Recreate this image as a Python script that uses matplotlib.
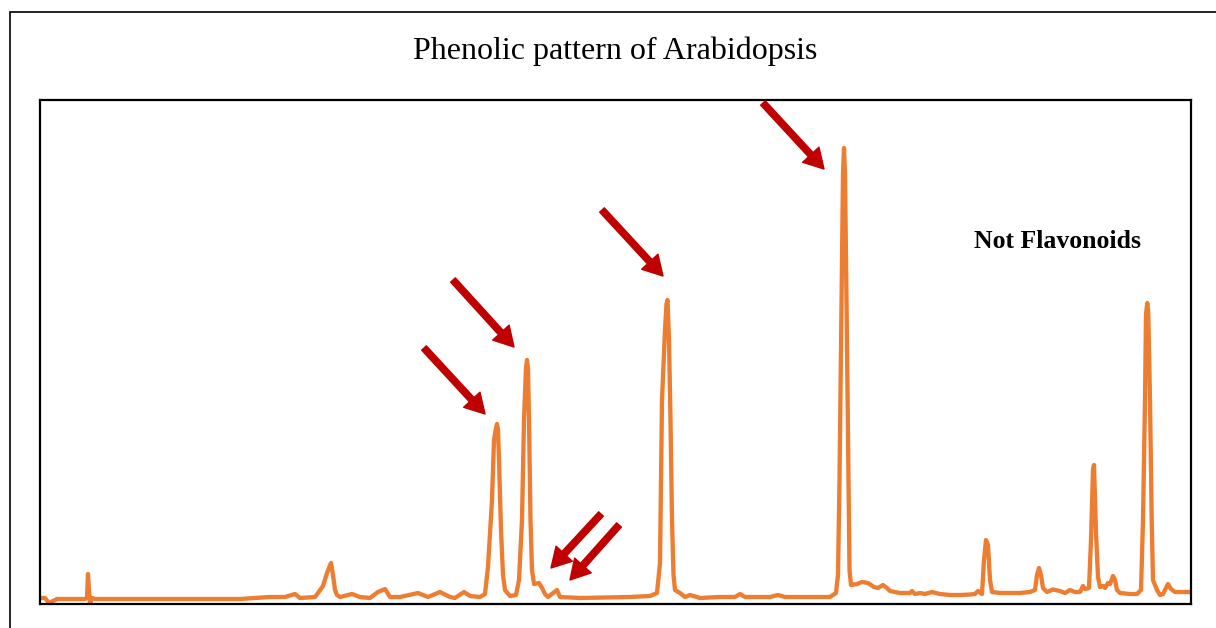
'''
phenolic pattern chromatogram
'''
import matplotlib
matplotlib.use('Agg')
import matplotlib.pyplot as plt
from matplotlib.patches import Rectangle

# (retention position, detector signal), arbitrary units
trace = [(0, 6), (5, 6), (9, 1), (17, 5), (30, 5), (45, 5), (47, 6), (48, 30),
         (49, 14), (50, 0), (52, 6), (55, 5), (200, 5), (230, 7), (245, 7),
         (255, 10), (260, 6), (275, 7), (283, 18), (287, 31), (289, 36),
         (291, 41), (293, 29), (295, 14), (297, 9), (300, 7), (312, 10),
         (320, 7), (330, 6), (338, 12), (345, 15), (350, 7), (360, 7),
         (378, 11), (388, 7), (400, 12), (410, 7), (415, 6), (424, 12),
         (430, 8), (440, 7), (445, 10), (448, 37), (452, 104), (454, 164),
         (456, 176), (457, 180), (458, 174), (459, 144), (461, 74), (463, 29),
         (465, 14), (470, 8), (476, 9), (479, 24), (482, 84), (484, 184),
         (486, 236), (487, 244), (488, 236), (489, 184), (490.5, 84), (492, 34),
         (494, 20), (499, 21), (502, 16), (505, 10), (508, 7), (517, 14),
         (520, 7), (540, 6), (590, 7), (610, 8), (617, 11), (620, 41),
         (622, 204), (625, 274), (626.5, 300), (627.5, 304), (629, 264),
         (630.5, 184), (632, 84), (633.5, 29), (635, 14), (640, 11), (645, 7),
         (650, 9), (660, 6), (680, 7), (695, 7), (700, 10), (705, 7), (730, 7),
         (738, 9), (745, 7), (790, 7), (796, 11), (798, 29), (799.5, 124),
         (801.5, 304), (803, 430), (804, 456), (805, 430), (806.5, 304),
         (808.5, 124), (809.5, 34), (811, 19), (817, 20), (822, 22), (828, 21),
         (834, 17), (838, 16), (843, 19), (847, 16), (850, 13), (860, 11),
         (870, 11), (872, 13), (875, 10), (880, 11), (885, 10), (892, 12),
         (900, 10), (910, 9), (920, 9), (930, 9.5), (935, 10), (938, 13),
         (942, 10), (944, 44), (946, 64), (948, 59), (950, 24), (952, 12),
         (960, 11), (980, 11), (990, 12), (995, 14), (997, 29), (999, 36),
         (1001, 29), (1003, 16), (1007, 12), (1013, 14.5), (1020, 13),
         (1025, 11), (1030, 14), (1035, 12), (1040, 12), (1043, 18), (1045, 15),
         (1049, 16), (1051, 64), (1053, 134), (1054, 139), (1056, 71),
         (1058, 27), (1060, 17), (1063, 18), (1065, 16), (1068, 21), (1070, 20),
         (1073, 28), (1075, 24), (1077, 14), (1080, 11), (1090, 10), (1097, 10),
         (1101, 14), (1103, 84), (1105, 204), (1106, 290), (1107.3, 301),
         (1108.3, 290), (1110, 204), (1111.7, 84), (1113, 24), (1117, 14),
         (1120, 9), (1123, 10), (1128, 20), (1131, 15), (1135, 12), (1143, 12),
         (1152, 12)]
rt = [p[0] for p in trace]
signal = [p[1] for p in trace]

# arrows: (tail, head) in data units
arrows = [((384, 256), (445, 190)),
          ((413, 324), (474, 257)),
          ((562, 394), (623, 328)),
          ((723, 501), (784, 435)),
          ((561, 90), (511, 36)),
          ((579, 79), (530, 24))]

title = 'Phenolic pattern of Arabidopsis'
note = 'Not Flavonoids'

fig = plt.figure(figsize=(12.16, 6.28), dpi=100)
ax = fig.add_axes([40 / 1216, 24 / 628, 1151 / 1216, 504 / 628])

ax.plot(rt, signal, color='#ED7D31', lw=3.1, solid_joinstyle='round',
        solid_capstyle='round')

for tail, head in arrows:
    ax.annotate('', xy=head, xytext=tail, annotation_clip=False,
                arrowprops=dict(arrowstyle='simple,head_length=0.7,head_width=0.8,tail_width=0.23',
                                color='#C00000', shrinkA=0, shrinkB=0,
                                mutation_scale=20))

ax.text(1017, 362, note, ha='center', va='center', fontsize=18.5,
        fontweight='bold', family='Liberation Serif')

ax.set_xlim(0, 1151)
ax.set_ylim(0, 504)
ax.set_xticks([])
ax.set_yticks([])
for s in ax.spines.values():
    s.set_linewidth(1.6)
    s.set_color('black')

# outer chart frame
fig.add_artist(Rectangle((10 / 1216, -0.05), 1.2, 0.9809 + 0.05,
                         transform=fig.transFigure, fill=False,
                         edgecolor='black', lw=1.2, clip_on=False))

fig.text(615 / 1216, (628 - 51) / 628, title, ha='center', va='center',
         fontsize=23, family='Liberation Serif')

fig.savefig('out.png', dpi=100)
